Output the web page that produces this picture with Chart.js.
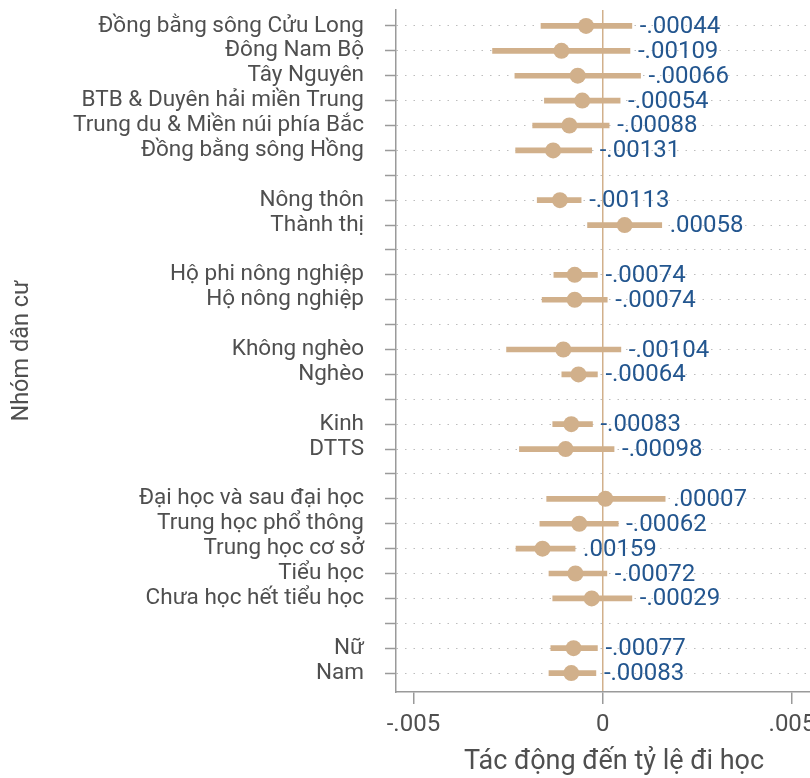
<!DOCTYPE html>
<html>
<head>
<meta charset="utf-8">
<script src="https://cdn.jsdelivr.net/npm/chart.js@4.4.0/dist/chart.umd.min.js"></script>
<style>
  html, body { margin: 0; padding: 0; background: #fff; overflow: hidden; width: 810px; height: 778px; }
  canvas { display: block; }
</style>
</head>
<body>
<canvas id="coefPlot" width="832" height="778" style="width:832px;height:778px"></canvas>
<script>
// Population groups, top to bottom; empty strings separate the blocks
const groups = [
  'Đồng bằng sông Cửu Long', 'Đông Nam Bộ', 'Tây Nguyên', 'BTB & Duyên hải miền Trung',
  'Trung du & Miền núi phía Bắc', 'Đồng bằng sông Hồng', '',
  'Nông thôn', 'Thành thị', '',
  'Hộ phi nông nghiệp', 'Hộ nông nghiệp', '',
  'Không nghèo', 'Nghèo', '',
  'Kinh', 'DTTS', '',
  'Đại học và sau đại học', 'Trung học phổ thông', 'Trung học cơ sở', 'Tiểu học', 'Chưa học hết tiểu học', '',
  'Nữ', 'Nam'
];

// Point estimates of the effect on school attendance
const estimates = [
  -0.00044, -0.00109, -0.00066, -0.00054, -0.00088, -0.00131, null,
  -0.00113, 0.00058, null,
  -0.00074, -0.00074, null,
  -0.00104, -0.00064, null,
  -0.00083, -0.00098, null,
  0.00007, -0.00062, -0.00159, -0.00072, -0.00029, null,
  -0.00077, -0.00083
];

// Confidence interval bounds
const lowerCI = [
  -0.00163, -0.00291, -0.00232, -0.00154, -0.00185, -0.00230, null,
  -0.00173, -0.00040, null,
  -0.00129, -0.00160, null,
  -0.00254, -0.00108, null,
  -0.00132, -0.00220, null,
  -0.00148, -0.00166, -0.00229, -0.00142, -0.00132, null,
  -0.00137, -0.00142
];
const upperCI = [
  0.00077, 0.00072, 0.00100, 0.00046, 0.00017, -0.00029, null,
  -0.00057, 0.00156, null,
  -0.00014, 0.00012, null,
  0.00048, -0.00014, null,
  -0.00027, 0.00030, null,
  0.00165, 0.00041, -0.00073, 0.00011, 0.00077, null,
  -0.00014, -0.00018
];

// Printed value labels
const valueLabels = [
  '-.00044', '-.00109', '-.00066', '-.00054', '-.00088', '-.00131', '',
  '-.00113', '.00058', '',
  '-.00074', '-.00074', '',
  '-.00104', '-.00064', '',
  '-.00083', '-.00098', '',
  '.00007', '-.00062', '.00159', '-.00072', '-.00029', '',
  '-.00077', '-.00083'
];

// Horizontal axis ticks
const xTickValues = [-0.005, 0, 0.005];
const xTickLabels = ['-.005', '0', '.005'];

const TAN = '#d1b08b';
const AXIS_GREY = '#9a9a9a';
const TEXT_GREY = '#4f4f4f';
const LABEL_BLUE = '#23568f';
const FONT = 'Roboto';

const rowIndex = groups.map((_, i) => i + 1);
const filled = rowIndex.filter((r) => estimates[r - 1] !== null);

const ciData = filled.map((r) => ({ x: [lowerCI[r - 1], upperCI[r - 1]], y: r }));
const pointData = filled.map((r) => ({ x: estimates[r - 1], y: r }));

// Writes each printed value just to the right of its interval
const valueLabelPlugin = {
  id: 'valueLabels',
  afterDatasetsDraw(chart) {
    const { ctx, scales: { x, y } } = chart;
    ctx.save();
    ctx.font = '24px ' + FONT;
    ctx.fillStyle = LABEL_BLUE;
    ctx.textAlign = 'left';
    ctx.textBaseline = 'middle';
    filled.forEach((r) => {
      const px = x.getPixelForValue(upperCI[r - 1]) + 8;
      const py = y.getPixelForValue(r) + 1;
      ctx.fillText(valueLabels[r - 1], px, py);
    });
    ctx.restore();
  }
};

new Chart(document.getElementById('coefPlot'), {
  type: 'scatter',
  data: {
    datasets: [
      {
        type: 'scatter',
        data: pointData,
        backgroundColor: TAN,
        borderWidth: 0,
        pointRadius: 8,
        pointHoverRadius: 8,
        order: 1
      },
      {
        type: 'bar',
        indexAxis: 'y',
        data: ciData,
        backgroundColor: TAN,
        borderWidth: 0,
        borderSkipped: false,
        barThickness: 5,
        order: 2
      }
    ]
  },
  options: {
    responsive: false,
    devicePixelRatio: 1,
    animation: false,
    layout: { autoPadding: false, padding: { top: 10, left: 0, right: 0, bottom: 0 } },
    plugins: { legend: { display: false }, tooltip: { enabled: false } },
    scales: {
      x: {
        type: 'linear',
        offset: false,
        min: -0.005461,
        max: 0.006058,
        afterBuildTicks: (scale) => { scale.ticks = xTickValues.map((v) => ({ value: v })); },
        afterFit: (scale) => { scale.height = 86; scale.paddingLeft = 0; scale.paddingRight = 0; },
        ticks: {
          autoSkip: false,
          maxRotation: 0,
          padding: 7,
          color: TEXT_GREY,
          font: { family: FONT, size: 24 },
          callback: (v, i) => xTickLabels[i]
        },
        grid: {
          offset: false,
          drawOnChartArea: true,
          color: (c) => (c.tick && c.tick.value === 0 ? TAN : 'rgba(0,0,0,0)'),
          lineWidth: 1.5,
          tickColor: AXIS_GREY,
          tickWidth: 1.5,
          tickLength: 12
        },
        border: { display: true, color: AXIS_GREY, width: 1.5 },
        title: {
          display: true,
          text: 'Tác động đến tỷ lệ đi học',
          color: TEXT_GREY,
          font: { family: FONT, size: 27 },
          padding: { top: 0, bottom: 0 }
        }
      },
      y: {
        type: 'linear',
        offset: false,
        reverse: true,
        min: 0.36,
        max: 27.76,
        afterBuildTicks: (scale) => { scale.ticks = rowIndex.map((v) => ({ value: v })); },
        afterFit: (scale) => { scale.width = 396; scale.paddingTop = 0; scale.paddingBottom = 0; },
        ticks: {
          autoSkip: false,
          padding: 21,
          color: TEXT_GREY,
          font: { family: FONT, size: 22.5 },
          callback: (v, i) => groups[i]
        },
        grid: {
          offset: false,
          color: '#bdbdbd',
          lineWidth: 1,
          tickColor: AXIS_GREY,
          tickWidth: 1.5,
          tickLength: 11,
          tickBorderDash: []
        },
        border: { display: true, color: AXIS_GREY, width: 1.5, dash: [1.5, 7] },
        title: {
          display: true,
          text: 'Nhóm dân cư',
          color: TEXT_GREY,
          font: { family: FONT, size: 23.5 },
          padding: { top: 8, bottom: 0 }
        }
      }
    }
  },
  plugins: [valueLabelPlugin]
});
</script>
</body>
</html>
